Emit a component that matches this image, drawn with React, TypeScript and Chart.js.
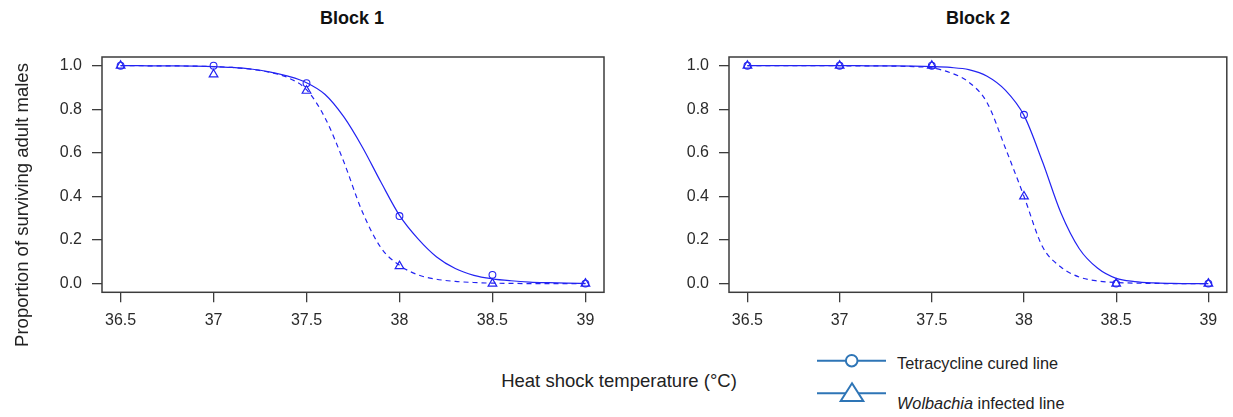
import React, { useEffect, useRef } from "react";
import { Chart, registerables } from "chart.js";

Chart.register(...registerables);

// Observed survival at each heat-shock temperature
const temps = [36.5, 37, 37.5, 38, 38.5, 39];
const block1Cured = [1.0, 1.0, 0.92, 0.31, 0.04, 0.0];
const block1Infected = [1.0, 0.96, 0.885, 0.08, 0.0, 0.0];
const block2Cured = [1.0, 1.0, 1.0, 0.775, 0.0, 0.0];
const block2Infected = [1.0, 1.0, 1.0, 0.4, 0.0, 0.0];

// Fitted dose-response curves, sampled every 0.1 °C
const fitTemps = [
  36.5, 36.6, 36.7, 36.8, 36.9, 37.0, 37.1, 37.2, 37.3, 37.4, 37.5, 37.6, 37.7,
  37.8, 37.9, 38.0, 38.1, 38.2, 38.3, 38.4, 38.5, 38.6, 38.7, 38.8, 38.9, 39.0,
];
const block1CuredFit = [
  1.0, 1.0, 0.999, 0.999, 0.998, 0.996, 0.992, 0.985, 0.972, 0.952, 0.922, 0.868, 0.766,
  0.627, 0.466, 0.313, 0.205, 0.122, 0.069, 0.038, 0.022, 0.013, 0.007, 0.004, 0.002, 0.001,
];
const block1InfectedFit = [
  1.0, 1.0, 0.999, 0.999, 0.998, 0.996, 0.992, 0.984, 0.97, 0.945, 0.89, 0.76, 0.56,
  0.33, 0.165, 0.084, 0.04, 0.02, 0.01, 0.005, 0.002, 0.001, 0.0, 0.0, 0.0, 0.0,
];
const block2CuredFit = [
  1.0, 1.0, 1.0, 1.0, 1.0, 1.0, 1.0, 0.999, 0.999, 0.998, 0.996, 0.992, 0.982,
  0.952, 0.887, 0.772, 0.56, 0.325, 0.16, 0.07, 0.024, 0.009, 0.003, 0.001, 0.0, 0.0,
];
const block2InfectedFit = [
  1.0, 1.0, 1.0, 1.0, 1.0, 1.0, 0.999, 0.999, 0.998, 0.996, 0.99, 0.968, 0.925,
  0.83, 0.62, 0.4, 0.17, 0.076, 0.03, 0.012, 0.005, 0.002, 0.001, 0.0, 0.0, 0.0,
];

const xTickValues = [36.5, 37, 37.5, 38, 38.5, 39];
const xTickLabels = ["36.5", "37", "37.5", "38", "38.5", "39"];
const yTickValues = [0, 0.2, 0.4, 0.6, 0.8, 1.0];
const yTickLabels = ["0.0", "0.2", "0.4", "0.6", "0.8", "1.0"];

const FONT = "'Liberation Sans', Arial, Helvetica, sans-serif";
const MARK = "#2323f2";
const AXIS = "#3c3c3c";
const LABEL = "#2b2b2b";

const pairs = (xs: number[], ys: number[]) => xs.map((x, i) => ({ x, y: ys[i] }));

const plotBox = {
  id: "plotBox",
  afterDraw(chart: any) {
    const { ctx, chartArea: a } = chart;
    ctx.save();
    ctx.strokeStyle = AXIS;
    ctx.lineWidth = 1.5;
    ctx.strokeRect(a.left, a.top, a.right - a.left, a.bottom - a.top);
    ctx.restore();
  },
};

function buildConfig(
  cured: number[],
  infected: number[],
  curedFit: number[],
  infectedFit: number[],
  axisWidth: number,
  padRight: number,
  xHeight: number
): any {
  const tickFont = { family: FONT, size: 16 };
  return {
    type: "line",
    data: {
      datasets: [
        {
          label: "Tetracycline cured line",
          data: pairs(temps, cured),
          showLine: false,
          pointStyle: "circle",
          pointRadius: 3.4,
          pointBorderWidth: 1.1,
          pointBorderColor: MARK,
          pointBackgroundColor: "rgba(0,0,0,0)",
        },
        {
          label: "Wolbachia infected line",
          data: pairs(temps, infected),
          showLine: false,
          pointStyle: "triangle",
          pointRadius: 5,
          pointBorderWidth: 1.2,
          pointBorderColor: MARK,
          pointBackgroundColor: "rgba(0,0,0,0)",
        },
        {
          label: "Tetracycline cured fit",
          data: pairs(fitTemps, curedFit),
          borderColor: MARK,
          borderWidth: 1.2,
          pointRadius: 0,
          cubicInterpolationMode: "monotone",
          fill: false,
        },
        {
          label: "Wolbachia infected fit",
          data: pairs(fitTemps, infectedFit),
          borderColor: MARK,
          borderWidth: 1.2,
          borderDash: [5, 4],
          pointRadius: 0,
          cubicInterpolationMode: "monotone",
          fill: false,
        },
      ],
    },
    options: {
      responsive: false,
      animation: false,
      devicePixelRatio: 1,
      layout: { padding: { top: 57, right: padRight, bottom: 0, left: 0 } },
      plugins: { legend: { display: false }, tooltip: { enabled: false }, title: { display: false } },
      scales: {
        x: {
          type: "linear",
          min: 36.4,
          max: 39.1,
          afterBuildTicks: (s: any) => {
            s.ticks = xTickValues.map((v) => ({ value: v }));
          },
          afterFit: (s: any) => {
            s.height = xHeight;
          },
          ticks: {
            autoSkip: false,
            maxRotation: 0,
            padding: 9,
            color: LABEL,
            font: tickFont,
            callback: (_v: any, i: number) => xTickLabels[i],
          },
          grid: { drawOnChartArea: false, drawTicks: true, tickLength: 10, color: AXIS, lineWidth: 1.3 },
          border: { display: false },
        },
        y: {
          type: "linear",
          min: -0.04,
          max: 1.04,
          afterBuildTicks: (s: any) => {
            s.ticks = yTickValues.map((v) => ({ value: v }));
          },
          afterFit: (s: any) => {
            s.width = axisWidth;
          },
          ticks: {
            padding: 10,
            color: LABEL,
            font: tickFont,
            callback: (_v: any, i: number) => yTickLabels[i],
          },
          grid: { drawOnChartArea: false, drawTicks: true, tickLength: 10, color: AXIS, lineWidth: 1.3 },
          border: { display: false },
        },
      },
    },
    plugins: [plotBox],
  };
}

function BlockChart(props: {
  left: number;
  width: number;
  height: number;
  axisWidth: number;
  padRight: number;
  cured: number[];
  infected: number[];
  curedFit: number[];
  infectedFit: number[];
}) {
  const ref = useRef<HTMLCanvasElement | null>(null);
  useEffect(() => {
    if (!ref.current) return;
    const chart = new Chart(
      ref.current,
      buildConfig(
        props.cured,
        props.infected,
        props.curedFit,
        props.infectedFit,
        props.axisWidth,
        props.padRight,
        props.height - 292.3
      )
    );
    return () => chart.destroy();
  }, []);
  return (
    <canvas
      ref={ref}
      width={props.width}
      height={props.height}
      style={{ position: "absolute", left: props.left, top: 0, width: props.width, height: props.height }}
    />
  );
}

const titleStyle = (cx: number): React.CSSProperties => ({
  position: "absolute",
  left: cx - 100,
  width: 200,
  top: 7,
  textAlign: "center",
  fontWeight: "bold",
  fontSize: 18,
  lineHeight: "22px",
  color: "#111",
});

export default function App() {
  return (
    <div
      style={{
        position: "absolute",
        left: 0,
        top: 0,
        width: 1233,
        height: 417,
        background: "#fff",
        overflow: "hidden",
        fontFamily: FONT,
      }}
    >
      <div style={titleStyle(352)}>Block 1</div>
      <div style={titleStyle(978)}>Block 2</div>

      <BlockChart
        left={0}
        width={620}
        height={345}
        axisWidth={102}
        padRight={16}
        cured={block1Cured}
        infected={block1Infected}
        curedFit={block1CuredFit}
        infectedFit={block1InfectedFit}
      />
      <BlockChart
        left={620}
        width={613}
        height={345}
        axisWidth={109}
        padRight={2}
        cured={block2Cured}
        infected={block2Infected}
        curedFit={block2CuredFit}
        infectedFit={block2InfectedFit}
      />

      <div
        style={{
          position: "absolute",
          left: 22 - 160,
          top: 205 - 12,
          width: 320,
          height: 24,
          lineHeight: "24px",
          textAlign: "center",
          transform: "rotate(-90deg)",
          fontSize: 18.5,
          color: "#222",
          whiteSpace: "nowrap",
        }}
      >
        Proportion of surviving adult males
      </div>

      <div
        style={{
          position: "absolute",
          left: 619 - 200,
          width: 400,
          top: 381 - 12,
          height: 24,
          lineHeight: "24px",
          textAlign: "center",
          fontSize: 18.5,
          color: "#222",
          whiteSpace: "nowrap",
        }}
      >
        Heat shock temperature (°C)
      </div>

      <svg
        width={90}
        height={70}
        style={{ position: "absolute", left: 810, top: 345 }}
      >
        <line x1={7} y1={15.7} x2={76} y2={15.7} stroke="#2e75b6" strokeWidth={2} />
        <circle cx={41.7} cy={15.7} r={5.8} fill="#fff" stroke="#2e75b6" strokeWidth={2} />
        <line x1={7} y1={48.3} x2={76} y2={48.3} stroke="#2e75b6" strokeWidth={2} />
        <polygon points="42,38.3 53.3,56 30.7,56" fill="#fff" stroke="#2e75b6" strokeWidth={2} />
      </svg>
      <div
        style={{
          position: "absolute",
          left: 897,
          top: 362.7 - 10,
          height: 20,
          lineHeight: "20px",
          fontSize: 16.3,
          color: "#222",
          whiteSpace: "nowrap",
        }}
      >
        Tetracycline cured line
      </div>
      <div
        style={{
          position: "absolute",
          left: 897,
          top: 402.7 - 10,
          height: 20,
          lineHeight: "20px",
          fontSize: 16.3,
          color: "#222",
          whiteSpace: "nowrap",
        }}
      >
        <i>Wolbachia</i> infected line
      </div>
    </div>
  );
}
